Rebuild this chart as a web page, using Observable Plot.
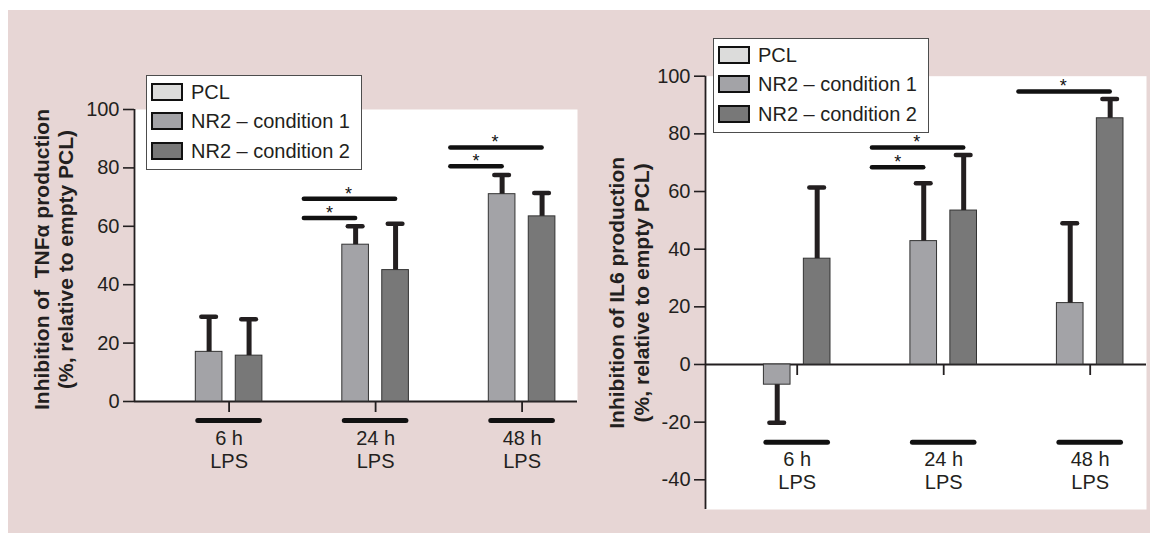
<!DOCTYPE html>
<html>
<head>
<meta charset="utf-8">
<script src="https://cdn.jsdelivr.net/npm/d3@7"></script>
<script src="https://cdn.jsdelivr.net/npm/@observablehq/plot@0.6"></script>
<style>
  html, body { margin: 0; padding: 0; background: #ffffff; }
  #page { position: relative; width: 1156px; height: 533px; overflow: hidden; font-family: 'Liberation Sans', Arial, Helvetica, sans-serif; }
  #bg { position: absolute; left: 8px; top: 10px; width: 1142px; height: 523px; background: #e7d6d5; }
  .chart { position: absolute; top: 0; width: 578px; height: 533px; }
  .chart svg { position: absolute; left: 0; top: 0; }
  .legend { position: absolute; box-sizing: border-box; width: 216px; height: 95px; background: #ffffff; border: 1.5px solid #4d4d4d; }
  .legend .sw { position: absolute; left: 4px; width: 32px; height: 18px; box-sizing: border-box; border: 2px solid #111; }
  .legend .lb { position: absolute; left: 44px; font-size: 20px; line-height: 20px; color: #231f20; white-space: pre; }
</style>
</head>
<body>
<div id="page">
  <div id="bg"></div>
  <div id="left" class="chart" style="left:0px"></div>
  <div id="right" class="chart" style="left:578px"></div>
</div>
<script>
// ---------- data ----------
const times = ["6 h", "24 h", "48 h"];
const stimulus = "LPS";
const series = ["PCL", "NR2 – condition 1", "NR2 – condition 2"];
const seriesColors = ["#dcdcdb", "#a3a3a7", "#787878"];

// TNFα inhibition (%)
const tnfPCL = [0, 0, 0];
const tnfCond1 = [17, 53.7, 71];
const tnfCond1SD = [12, 6.3, 6.6];
const tnfCond2 = [15.7, 45, 63.4];
const tnfCond2SD = [12.5, 15.9, 8];
const tnfSigTime = ["24 h", "24 h", "48 h", "48 h"];
const tnfSigTarget = [1, 2, 1, 2];
const tnfSigLevel = [62.8, 69.4, 80.6, 87];

// IL6 inhibition (%)
const il6PCL = [0, 0, 0];
const il6Cond1 = [-7, 42.8, 21.3];
const il6Cond1SD = [13.2, 20.1, 27.7];
const il6Cond2 = [36.7, 53.4, 85.4];
const il6Cond2SD = [24.7, 19.3, 6.7];
const il6SigTime = ["24 h", "24 h", "48 h"];
const il6SigTarget = [1, 2, 2];
const il6SigLevel = [68.4, 75.3, 94.7];

const tnfTicks = [0, 20, 40, 60, 80, 100];
const il6Ticks = [-40, -20, 0, 20, 40, 60, 80, 100];
const tnfTitle = "Inhibition of  TNFα production\n(%, relative to empty PCL)";
const il6Title = "Inhibition of IL6 production\n(%, relative to empty PCL)";

// ---------- helpers ----------
const INK = "#231f20";
const FONT = "'Liberation Sans', Arial, Helvetica, sans-serif";

function buildRows(pcl, c1, c1sd, c2, c2sd) {
  const out = [];
  times.forEach((t, i) => {
    out.push({time: t, series: series[0], value: pcl[i], sd: 0});
    out.push({time: t, series: series[1], value: c1[i], sd: c1sd[i]});
    out.push({time: t, series: series[2], value: c2[i], sd: c2sd[i]});
  });
  return out;
}
function buildSig(tArr, targetArr, levelArr) {
  return tArr.map((t, i) => ({time: t, target: series[targetArr[i]], level: levelArr[i]}));
}
const errEnd = d => d.value >= 0 ? d.value + d.sd : d.value - d.sd;

function frameLayer(o) {
  return Plot.plot({
    width: 578, height: 533,
    marginLeft: o.marginLeft, marginRight: o.marginRight, marginTop: o.marginTop, marginBottom: o.marginBottom,
    style: {background: "transparent", color: INK, fontFamily: FONT},
    x: {domain: [0, 1], axis: null},
    y: {domain: o.yDomain, axis: null},
    marks: [
      Plot.frame({fill: "white", stroke: null}),
      Plot.ruleY([0], {stroke: INK, strokeWidth: 1.8}),
      Plot.ruleX([0], {stroke: INK, strokeWidth: 1.8}),
      Plot.axisY({ticks: o.ticks, tickSize: 11, tickPadding: 4, fontSize: 20, strokeWidth: 1.6,
                  tickFormat: d => String(d), label: null}),
      Plot.text([o.title], {text: d => d, frameAnchor: "left", textAnchor: "middle", lineAnchor: "middle",
                  rotate: -90, dx: o.titleDx, dy: o.titleDy,
                  fontSize: 21, fontWeight: "bold", lineHeight: 1.19, fill: INK})
    ]
  });
}

function barLayer(o) {
  const withErr = o.rows.filter(d => d.sd > 0);
  return Plot.plot({
    width: 578, height: 533,
    marginLeft: 0, marginRight: 0, marginTop: o.marginTop, marginBottom: o.marginBottom,
    style: {background: "transparent", color: INK, fontFamily: FONT},
    fx: {domain: times, range: o.fxRange, padding: 0, round: false, label: null},
    x: {domain: series, paddingInner: 1 / 3, paddingOuter: 0.5, align: 0, round: false, axis: null},
    y: {domain: o.yDomain, axis: null},
    color: {domain: series, range: seriesColors},
    marks: [
      Plot.barY(o.rows, {fx: "time", x: "series", y: "value", fill: "series", stroke: "#333333", strokeWidth: 1}),
      Plot.ruleX(withErr, {fx: "time", x: "series", y1: "value", y2: errEnd, stroke: INK, strokeWidth: 5}),
      Plot.tickY(withErr, {fx: "time", x: "series", y: errEnd, stroke: INK, strokeWidth: 4.5,
                           strokeLinecap: "round", insetLeft: 6, insetRight: 6}),
      Plot.ruleY(times, {fx: d => d, x1: () => series[1], x2: () => series[2], y: () => 0, dy: o.underDy,
                         stroke: "#111", strokeWidth: 5, strokeLinecap: "round", insetLeft: 2.5, insetRight: 2.5}),
      Plot.ruleY(o.sig, {fx: "time", x1: () => series[0], x2: "target", y: "level",
                         stroke: "#111", strokeWidth: 4.5, strokeLinecap: "round", insetLeft: 2, insetRight: 13.3}),
      Plot.text(o.sig.filter(d => d.target === series[1]), {fx: "time", x: "target", y: "level", text: () => "*",
                         dx: -26, dy: -5, fontSize: 18, fill: "#111"}),
      Plot.text(o.sig.filter(d => d.target === series[2]), {fx: "time", x: "target", y: "level", text: () => "*",
                         dx: -47, dy: -5, fontSize: 18, fill: "#111"}),
      Plot.axisFx({anchor: "bottom", tickSize: 11, tickPadding: o.labelPad, fontSize: 20, lineHeight: 1.12,
                   strokeWidth: 1.8, label: null, tickFormat: d => `${d}\n${stimulus}`})
    ]
  });
}

function addLegend(container, left, top) {
  const box = document.createElement("div");
  box.className = "legend";
  box.style.left = left + "px";
  box.style.top = top + "px";
  series.forEach((s, i) => {
    const sw = document.createElement("div");
    sw.className = "sw";
    sw.style.top = (6.5 + 29.5 * i) + "px";
    sw.style.background = seriesColors[i];
    const lb = document.createElement("div");
    lb.className = "lb";
    lb.style.top = (5.5 + 29.5 * i) + "px";
    lb.textContent = s;
    box.appendChild(sw);
    box.appendChild(lb);
  });
  container.appendChild(box);
}

// ---------- left chart: TNFα ----------
const left = document.getElementById("left");
left.appendChild(frameLayer({
  marginLeft: 134, marginRight: 1, marginTop: 109, marginBottom: 132,
  yDomain: [0, 100], ticks: tnfTicks, title: tnfTitle, titleDx: -81.5, titleDy: 4
}));
left.appendChild(barLayer({
  marginTop: 109, marginBottom: 132, yDomain: [0, 100], fxRange: [155.35, 594.85],
  rows: buildRows(tnfPCL, tnfCond1, tnfCond1SD, tnfCond2, tnfCond2SD),
  sig: buildSig(tnfSigTime, tnfSigTarget, tnfSigLevel),
  underDy: 19, labelPad: 17
}));
addLegend(left, 146, 75);

// ---------- right chart: IL6 ----------
const right = document.getElementById("right");
right.appendChild(frameLayer({
  marginLeft: 127, marginRight: 10, marginTop: 75.7, marginBottom: 24,
  yDomain: [-50.3, 100], ticks: il6Ticks, title: il6Title, titleDx: -76.7, titleDy: 0
}));
right.appendChild(barLayer({
  marginTop: 75.7, marginBottom: 169, yDomain: [0, 100], fxRange: [145.45, 584.95],
  rows: buildRows(il6PCL, il6Cond1, il6Cond1SD, il6Cond2, il6Cond2SD),
  sig: buildSig(il6SigTime, il6SigTarget, il6SigLevel),
  underDy: 77.7, labelPad: 75
}));
addLegend(right, 135, 38);
</script>
</body>
</html>
